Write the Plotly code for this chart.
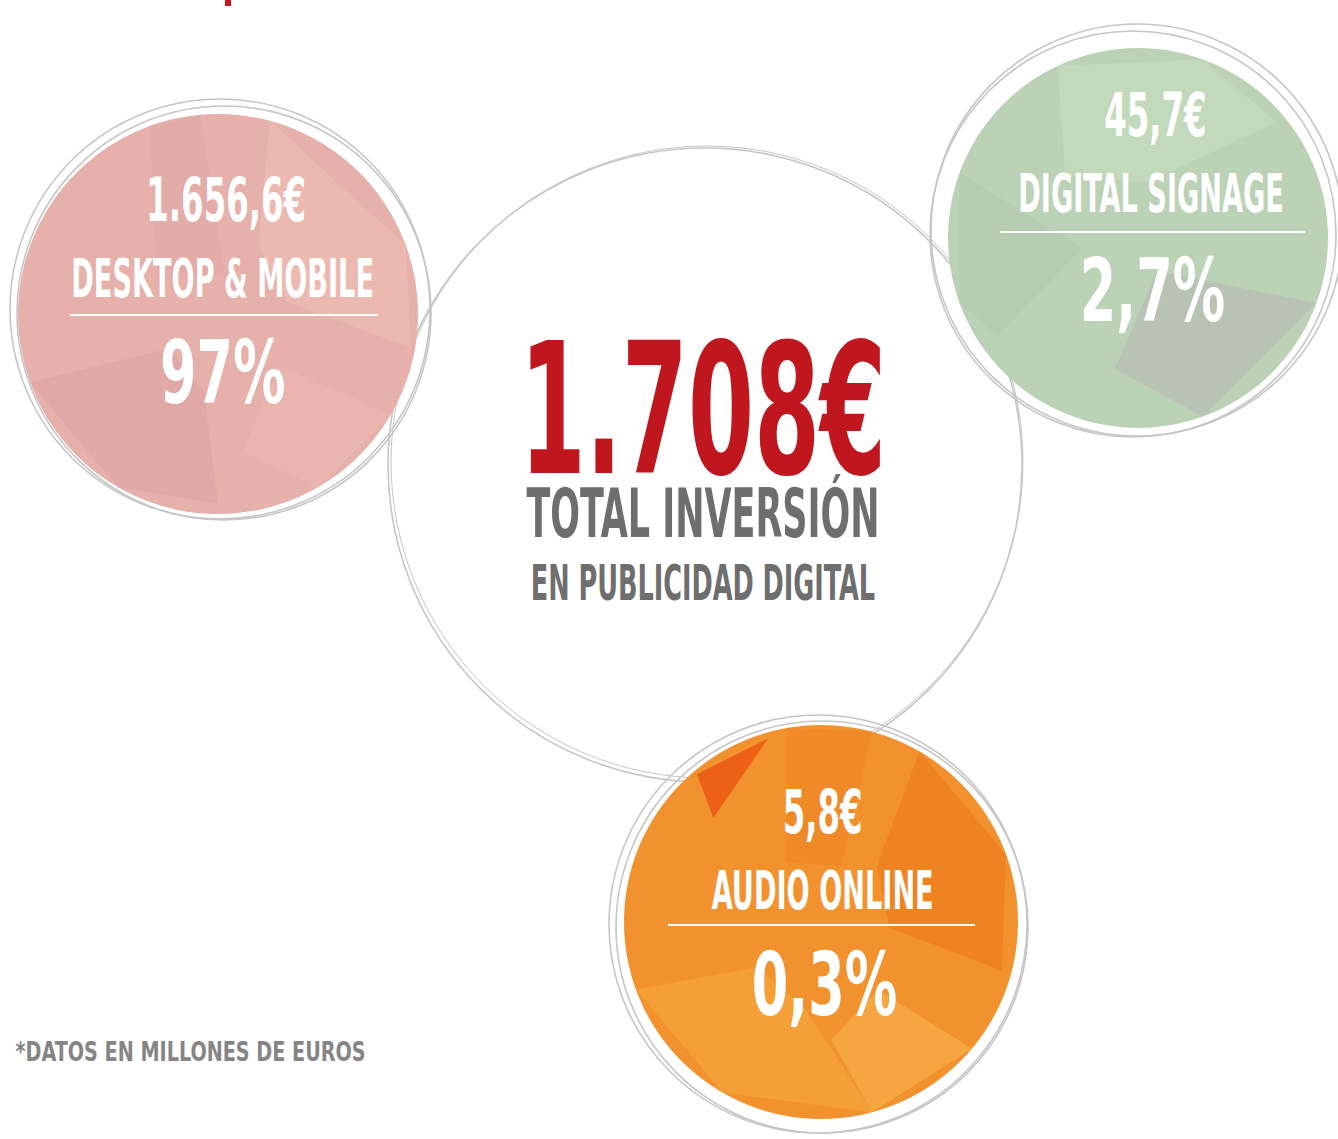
import math
import json
import plotly.graph_objects as go

# ---- data ----
total_value = 1708
total_label = ["TOTAL INVERSIÓN", "EN PUBLICIDAD DIGITAL"]
categories = ["DESKTOP & MOBILE", "DIGITAL SIGNAGE", "AUDIO ONLINE"]
values = [1656.6, 45.7, 5.8]
shares = [97, 2.7, 0.3]
footnote = "*DATOS EN MILLONES DE EUROS"


def es_num(v, dec):
    s = f"{v:,.{dec}f}"
    return s.replace(",", "X").replace(".", ",").replace("X", ".")


def es_pct(p):
    return (es_num(p, 0) if float(p).is_integer() else es_num(p, 1)) + "%"


# ---- styling / layout ----
W, H = 1338, 1139
FONT = "DejaVu Sans Condensed, DejaVu Sans, sans-serif"
fills = ["#e6b0ab", "#bcd2b6", "#f2922e"]
centers = [(218, 314), (1138, 238), (821, 922)]
radius = [200, 190, 197]
ring_centers = [[(220, 309), (224, 313)], [(1137, 230), (1133, 234)], [(818, 924), (822, 927)]]
ring_radius = [[210, 207], [206, 203], [209, 206]]
center_c = (705, 465)
center_r = 317
ring = "#c6c6c6"

# subtle facets: (colour, [(angle_deg, radius_fraction), ...])
facets = [
    [("#ecb9b1", [(75, 1.0), (20, 1.0), (-10, 0.98), (10, 0.35), (60, 0.4)]),
     ("#e0a8a7", [(200, 1.0), (240, 1.0), (270, 0.95), (260, 0.4), (215, 0.3)]),
     ("#e3aca9", [(110, 1.0), (95, 1.0), (80, 0.2), (150, 0.35)]),
     ("#eab5ae", [(-30, 1.0), (-60, 1.0), (-80, 0.7), (-40, 0.4)])],
    [("#c3d9bc", [(115, 1.0), (70, 1.0), (40, 0.95), (80, 0.3), (140, 0.5)]),
     ("#b9c3b3", [(-20, 1.0), (-70, 1.0), (-100, 0.7), (-60, 0.2)]),
     ("#b6ccb0", [(160, 1.0), (200, 1.0), (215, 0.9), (190, 0.3)])],
    [("#ef8322", [(60, 1.0), (20, 1.0), (-15, 0.95), (-5, 0.35), (45, 0.4)]),
     ("#f49f38", [(200, 1.0), (240, 1.0), (285, 1.0), (260, 0.45), (215, 0.4)]),
     ("#ed6018", [(130, 0.98), (106, 0.97), (136, 0.76)]),
     ("#f08a28", [(100, 1.0), (75, 1.0), (70, 0.3), (120, 0.35)]),
     ("#f5a640", [(-40, 1.0), (-75, 1.0), (-85, 0.6), (-50, 0.45)])],
]

# text styling: size, x-squeeze (condensed look), offsets from circle centre
val_style = dict(size=60, sx=0.60)
cat_style = dict(size=53, sx=0.57)
pct_style = dict(size=87, sx=0.67)
text_dx = [[8, 4, 4], [17, 13, 14], [1, 1, 3]]
text_dy = [[-114, -36, 59], [-123, -45, 53], [-110, -32, 63]]
line_dy = [1, -6, 3]
line_span = [(70, 378), (1000, 1305), (668, 975)]

fig = go.Figure()
shapes = []
annotations = []
squeeze = []


def circle(cx, cy, r, **kw):
    return dict(type="circle", xref="x", yref="y",
                x0=cx - r, x1=cx + r, y0=cy - r, y1=cy + r, **kw)


def poly(cx, cy, r, pts, color):
    coords = [(cx + f * r * math.cos(math.radians(a)), cy - f * r * math.sin(math.radians(a)))
              for a, f in pts]
    path = "M " + " L ".join(f"{x:.1f},{y:.1f}" for x, y in coords) + " Z"
    return dict(type="path", xref="x", yref="y", path=path, fillcolor=color,
                line=dict(width=0), layer="above")


def add_text(x, y, text, size, color, sx, xanchor="center"):
    annotations.append(dict(x=x, y=y, text=text, xanchor=xanchor,
                            font=dict(family=FONT, size=size, color=color, weight="bold")))
    squeeze.append(sx)


# centre circle
shapes.append(circle(*center_c, center_r, fillcolor="white", line=dict(color=ring, width=1.6)))
shapes.append(circle(center_c[0] + 2, center_c[1] - 3, center_r - 1, line=dict(color=ring, width=1)))

# satellites
for i, ((cx, cy), r) in enumerate(zip(centers, radius)):
    shapes.append(circle(cx, cy, r, fillcolor=fills[i], line=dict(width=0)))
    for col, pts in facets[i]:
        shapes.append(poly(cx, cy, r, pts, col))
    for (rx, ry), rr in zip(ring_centers[i], ring_radius[i]):
        shapes.append(circle(rx, ry, rr, line=dict(color=ring, width=1.6), layer="above"))

for i, ((cx, cy), r) in enumerate(zip(centers, radius)):
    add_text(cx + text_dx[i][0], cy + text_dy[i][0], es_num(values[i], 1) + "€",
             val_style["size"], "white", val_style["sx"])
    add_text(cx + text_dx[i][1], cy + text_dy[i][1], categories[i],
             cat_style["size"], "white", cat_style["sx"])
    shapes.append(dict(type="line", xref="x", yref="y", layer="above",
                       x0=line_span[i][0], x1=line_span[i][1],
                       y0=cy + line_dy[i], y1=cy + line_dy[i],
                       line=dict(color="white", width=2)))
    add_text(cx + text_dx[i][2], cy + text_dy[i][2], es_pct(shares[i]),
             pct_style["size"], "white", pct_style["sx"])

# centre text (one block, three lines)
centre_text = (f"<span style='font-size:182px;color:#c0161e'>{es_num(total_value, 0)}€</span>"
               f"<br><span style='font-size:67px'>{total_label[0]}</span>"
               f"<br>{total_label[1]}")
add_text(703, 458, centre_text, 49, "#6e6e6e", 0.58)

# footnote
add_text(190, 1051, footnote, 27, "#858585", 0.79)

# small red mark at top
shapes.append(dict(type="rect", xref="x", yref="y", x0=225, x1=231, y0=0, y1=6,
                   fillcolor="#d0101a", line=dict(width=0)))

for a in annotations:
    a.update(xref="x", yref="y", showarrow=False, yanchor="middle")

fig.update_layout(
    width=W, height=H, margin=dict(l=0, r=0, t=0, b=0),
    paper_bgcolor="white", plot_bgcolor="white",
    xaxis=dict(range=[0, W], visible=False, fixedrange=True),
    yaxis=dict(range=[H, 0], visible=False, fixedrange=True),
    shapes=shapes, annotations=annotations, showlegend=False,
)

post = """
document.body.style.margin = '0';
document.body.style.overflow = 'hidden';
var sx = %s;
var gd = document.getElementById('{plot_id}');
gd.querySelectorAll('g.annotation').forEach(function (g) {
  var i = parseInt(g.getAttribute('data-index'));
  var t = g.querySelector('text.annotation-text');
  if (t && !isNaN(i)) {
    t.style.transformBox = 'fill-box';
    t.style.transformOrigin = 'center';
    t.style.transform = 'scaleX(' + sx[i] + ')';
  }
});
""" % json.dumps(squeeze)

fig.write_html("out.html", post_script=post, config={"displayModeBar": False})
